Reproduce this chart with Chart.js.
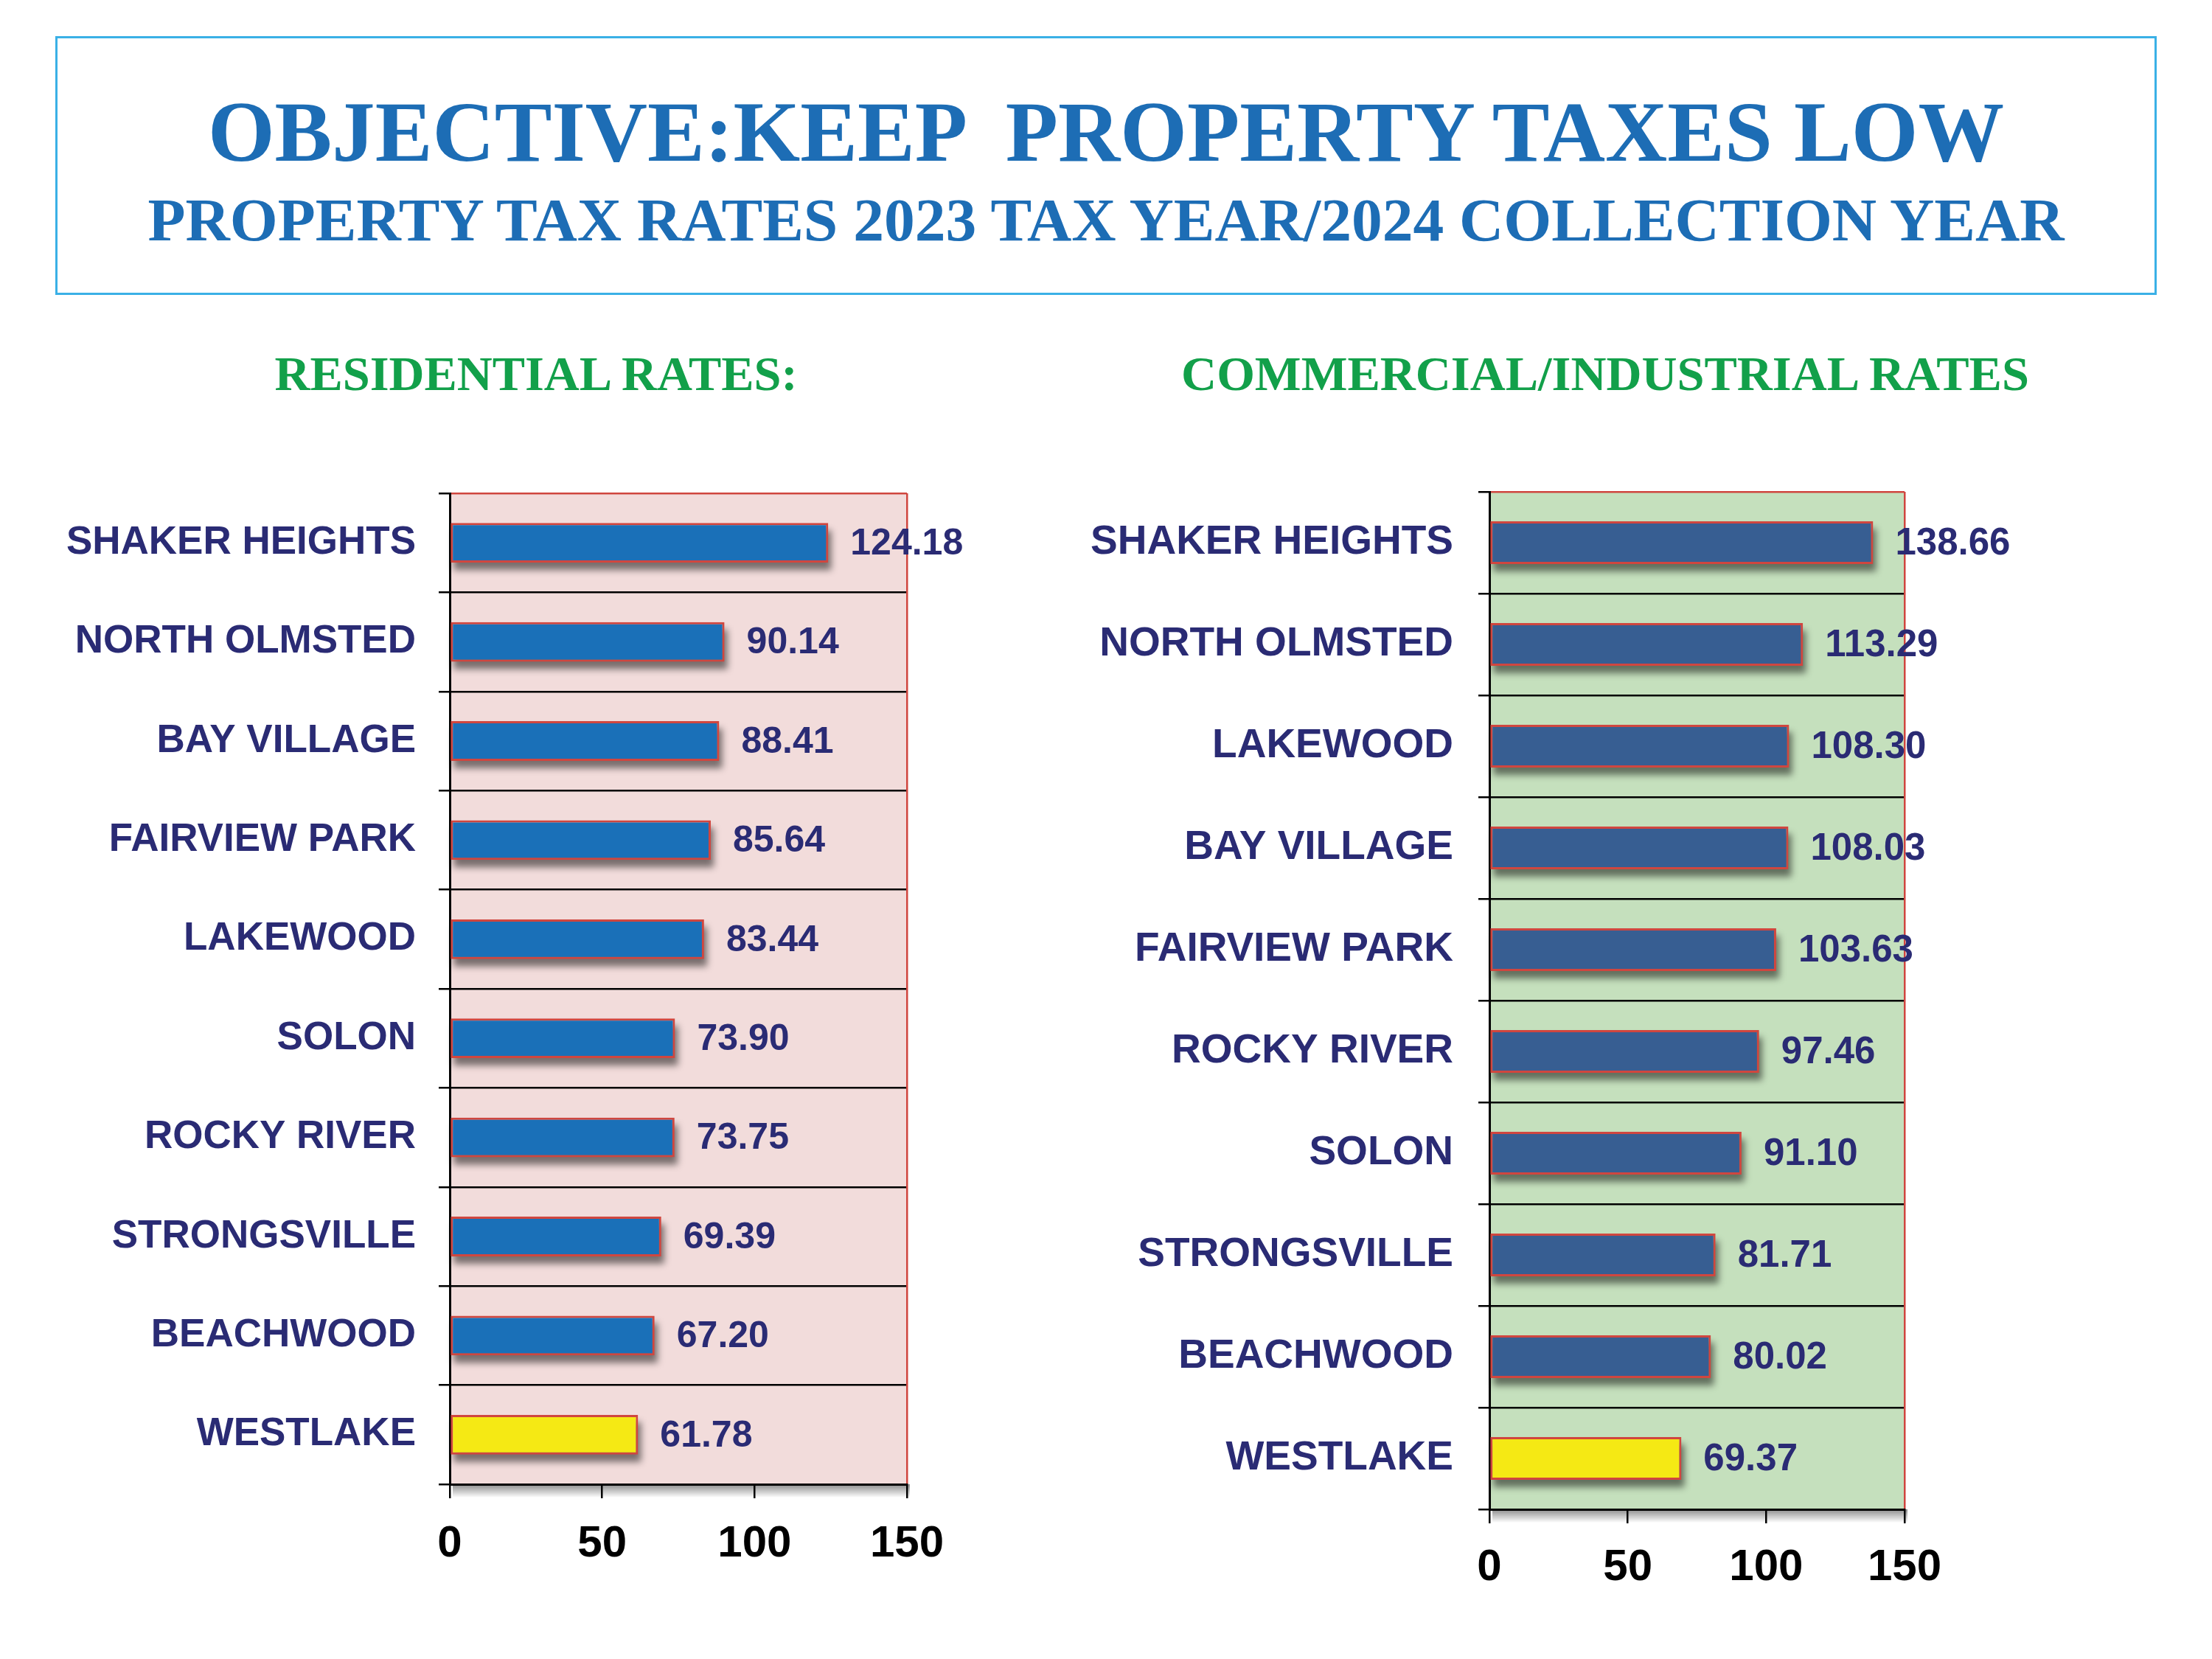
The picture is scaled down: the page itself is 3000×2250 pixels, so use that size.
<!DOCTYPE html>
<html>
<head>
<meta charset="utf-8">
<script src="https://cdn.jsdelivr.net/npm/chart.js@4.4.1/dist/chart.umd.min.js"></script>
<style>
    body { margin: 0; width: 3000px; height: 2250px; background: #ffffff; position: relative; overflow: hidden; }
    .box { position: absolute; left: 75px; top: 49px; width: 2844px; height: 345px; border: 3px solid #3AB0E6; }
    .serif { position: absolute; text-align: center; font-family: "Liberation Serif", "Times New Roman", serif; font-weight: bold; line-height: 1; white-space: pre; }
    #title1 { left: 0; width: 3000px; top: 121px; font-size: 116.6px; color: #1D6DB5; }
    #title2 { left: 0; width: 3000px; top: 257px; font-size: 83.5px; color: #1D6DB5; }
    #sub1 { left: 27px; width: 1400px; top: 474px; font-size: 66.4px; color: #12A04A; }
    #sub2 { left: 1477px; width: 1400px; top: 474px; font-size: 66.5px; color: #12A04A; }
    .wrap { position: absolute; top: 600px; height: 1600px; }
    #wrapRes { left: 0; width: 1400px; }
    #wrapCom { left: 1400px; width: 1600px; }
</style>
</head>
<body>
<div class="box"></div>
<div class="serif" id="title1">OBJECTIVE:KEEP  PROPERTY TAXES LOW</div>
<div class="serif" id="title2">PROPERTY TAX RATES 2023 TAX YEAR/2024 COLLECTION YEAR</div>
<div class="serif" id="sub1">RESIDENTIAL RATES:</div>
<div class="serif" id="sub2">COMMERCIAL/INDUSTRIAL RATES</div>
<div class="wrap" id="wrapRes"><canvas id="resChart" width="1400" height="1600"></canvas></div>
<div class="wrap" id="wrapCom"><canvas id="comChart" width="1600" height="1600"></canvas></div>
<script>
"use strict";

const resCities = ["SHAKER HEIGHTS", "NORTH OLMSTED", "BAY VILLAGE", "FAIRVIEW PARK", "LAKEWOOD",
    "SOLON", "ROCKY RIVER", "STRONGSVILLE", "BEACHWOOD", "WESTLAKE"];
const resRates = [124.18, 90.14, 88.41, 85.64, 83.44, 73.90, 73.75, 69.39, 67.20, 61.78];

const comCities = ["SHAKER HEIGHTS", "NORTH OLMSTED", "LAKEWOOD", "BAY VILLAGE", "FAIRVIEW PARK",
    "ROCKY RIVER", "SOLON", "STRONGSVILLE", "BEACHWOOD", "WESTLAKE"];
const comRates = [138.66, 113.29, 108.30, 108.03, 103.63, 97.46, 91.10, 81.71, 80.02, 69.37];

const xTicks = [0, 50, 100, 150];
const highlightCity = "WESTLAKE";

const navy = "#2A2B74";
const edgeRed = "#D0463F";

function decor(bg, valueFont) {
    return {
        id: "decor",
        beforeDraw(chart) {
            const a = chart.chartArea;
            const ctx = chart.ctx;
            ctx.save();
            ctx.fillStyle = bg;
            ctx.fillRect(a.left, a.top, a.right - a.left, a.bottom - a.top);
            // soft shadow under the bottom axis
            const g = ctx.createLinearGradient(0, a.bottom, 0, a.bottom + 18);
            g.addColorStop(0, "rgba(0,0,0,0.45)");
            g.addColorStop(1, "rgba(0,0,0,0)");
            ctx.fillStyle = g;
            ctx.fillRect(a.left + 4, a.bottom, a.right - a.left, 18);
            ctx.restore();
        },
        beforeDatasetsDraw(chart) {
            // drop shadow under each bar, taken from the bar elements
            const ctx = chart.ctx;
            const meta = chart.getDatasetMeta(0);
            ctx.save();
            ctx.filter = "blur(5px)";
            ctx.fillStyle = "rgba(0,0,0,0.5)";
            meta.data.forEach(function (bar) {
                const p = bar.getProps(["x", "y", "base", "height"], true);
                ctx.fillRect(p.base + 4, p.y - p.height / 2 + 10, p.x - p.base, p.height);
            });
            ctx.restore();
        },
        afterDatasetsDraw(chart) {
            const ctx = chart.ctx;
            const values = chart.data.datasets[0].data;
            const meta = chart.getDatasetMeta(0);
            ctx.save();
            ctx.font = "bold " + valueFont + "px 'Liberation Sans', Arial, sans-serif";
            ctx.fillStyle = navy;
            ctx.textAlign = "left";
            ctx.textBaseline = "middle";
            meta.data.forEach(function (bar, i) {
                ctx.fillText(values[i].toFixed(2), bar.x + 30, bar.y + 2);
            });
            ctx.restore();
        }
    };
}

function makeChart(id, cities, rates, o) {
    const ctx = document.getElementById(id);
    return new Chart(ctx, {
        type: "bar",
        data: {
            labels: cities,
            datasets: [{
                data: rates,
                backgroundColor: cities.map(function (c) { return c === highlightCity ? "#F5E914" : o.barColor; }),
                borderColor: edgeRed,
                borderWidth: 3,
                borderSkipped: false,
                categoryPercentage: 1,
                barPercentage: o.barPct
            }]
        },
        options: {
            indexAxis: "y",
            responsive: false,
            devicePixelRatio: 1,
            animation: false,
            layout: { padding: { top: o.padTop, right: o.padRight, bottom: 0, left: 0 } },
            plugins: { legend: { display: false }, tooltip: { enabled: false } },
            scales: {
                y: {
                    type: "category",
                    afterFit(scale) { scale.width = o.yWidth; },
                    grid: {
                        offset: true,
                        color: function (c) { return c.index === 0 ? edgeRed : "#000000"; },
                        tickColor: "#000000",
                        lineWidth: 2.5,
                        tickLength: 15
                    },
                    border: { color: "#000000", width: 3 },
                    ticks: {
                        color: navy,
                        padding: o.labelPad,
                        font: { family: "'Liberation Sans', Arial, sans-serif", weight: "bold", size: o.labelFont }
                    }
                },
                x: {
                    type: "linear",
                    min: 0,
                    max: 150,
                    afterFit(scale) { scale.height = o.xHeight; },
                    afterBuildTicks(scale) { scale.ticks = xTicks.map(function (v) { return { value: v }; }); },
                    grid: {
                        color: function (c) { return c.tick && c.tick.value === 150 ? edgeRed : "rgba(0,0,0,0)"; },
                        tickColor: "#000000",
                        lineWidth: 2.5,
                        tickLength: 19
                    },
                    border: { color: "#000000", width: 3 },
                    ticks: {
                        color: "#000000",
                        padding: o.tickPad,
                        font: { family: "'Liberation Sans', Arial, sans-serif", weight: "bold", size: 60 }
                    }
                }
            }
        },
        plugins: [decor(o.bg, o.valueFont)]
    });
}

makeChart("resChart", resCities, resRates, {
    barColor: "#1A70B8", bg: "#F2DCDB", barPct: 0.40,
    padTop: 69, padRight: 170, yWidth: 610, xHeight: 187,
    labelPad: 31, labelFont: 53, valueFont: 50, tickPad: 26
});

makeChart("comChart", comCities, comRates, {
    barColor: "#375E92", bg: "#C5E0BD", barPct: 0.42,
    padTop: 59, padRight: 417, yWidth: 620, xHeight: 153,
    labelPad: 34, labelFont: 55, valueFont: 51, tickPad: 24
});
</script>
</body>
</html>
